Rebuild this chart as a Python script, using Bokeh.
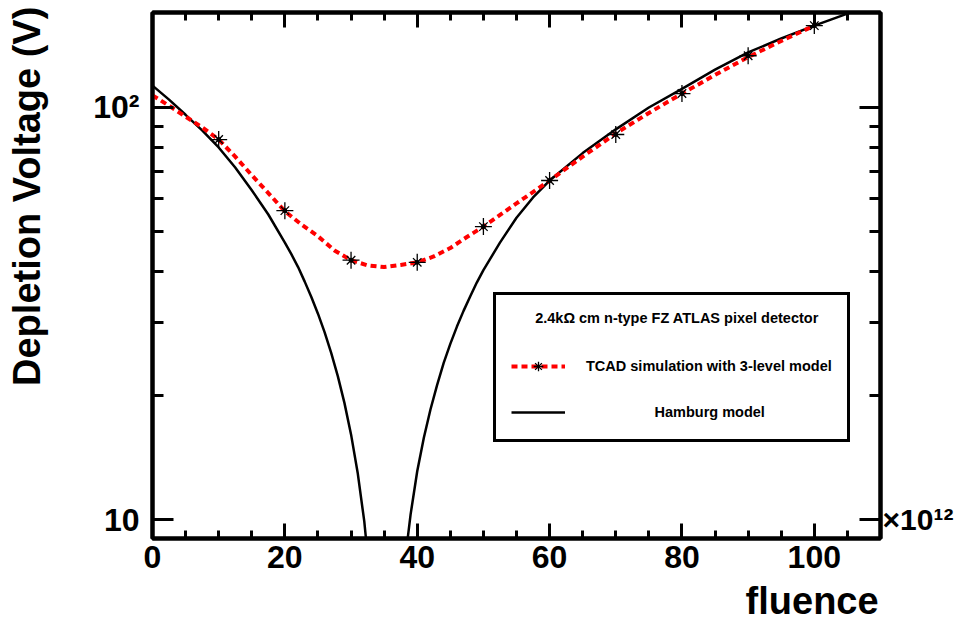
from bokeh.plotting import figure
from bokeh.models import (FixedTicker, LinearAxis, LogAxis, Legend, LegendItem,
                          CustomJSTickFormatter)
from bokeh.embed import file_html
from bokeh.resources import INLINE

# ---- data ----
tcad_curve_x = [0, 2.5, 5, 7.5, 10, 12.5, 15, 17.5, 20, 22.5, 25, 27.5, 30, 32.5, 35, 37.5,
                40, 42.5, 45, 47.5, 50, 55, 60, 65, 70, 75, 80, 85, 90, 95, 100]
tcad_curve_v = [107, 101, 95, 89.5, 83.6, 76, 68.5, 62, 56, 52, 48.7, 45, 42.6, 41.4, 41.0, 41.5,
                42.1, 43.5, 45.6, 48.5, 51.4, 58.5, 66.5, 76, 86.5, 97, 108, 120, 132.5, 145, 158]

tcad_pts_x = [10, 20, 30, 40, 50, 60, 70, 80, 90, 100]
tcad_pts_v = [83.6, 56.2, 42.6, 42.1, 51.4, 66.5, 86.0, 108.1, 133.5, 158]

hamburg_x = [0, 2.5, 5, 7.5, 10, 12.5, 15, 17.5, 20, 21, 22, 23, 24, 25, 26, 27, 28, 29, 30,
             31, 32, 33, 34, 35, 36, 37, 38, 39, 40, 41, 42, 43, 44, 45, 46, 47, 48, 49, 50,
             52.5, 55, 57.5, 60, 65, 70, 75, 80, 85, 90, 95, 100, 105, 110]
hamburg_v = [113, 104.5, 96, 88, 80, 71.5, 63, 55, 47, 44, 41, 37.8, 34.7, 31.6, 28.5, 25.4,
             22.3, 19.2, 16.1, 13, 9.9, 6.8, 3.7, 0.6, 2.2, 4.9, 7.6, 10.3, 13.1, 15.8, 18.5,
             21.2, 24, 26.7, 29.4, 32.1, 34.8, 37.6, 40.3, 47, 54, 60.5, 66.5, 77.5, 88.5,
             100, 111, 123.5, 136, 147, 158, 169, 180]

x_major = [0, 20, 40, 60, 80, 100]
x_minor = [5, 10, 15, 25, 30, 35, 45, 50, 55, 65, 70, 75, 85, 90, 95, 105]
y_major = [10, 100]
y_minor = [20, 30, 40, 50, 60, 70, 80, 90]
y_labels = {10: "10", 100: "10²"}
x_exponent = {10: "×10¹²", 100: ""}

legend_header = "2.4kΩ cm n-type FZ ATLAS pixel detector"
label_tcad = "TCAD simulation with 3-level model"
label_hamburg = "Hamburg model"
x_title = "fluence"
y_title = "Depletion Voltage (V)"

FONT = "Liberation Sans"
NBSP = "\u00a0"

p = figure(width=964, height=626, x_range=(0, 110), y_range=(9, 170), y_axis_type="log",
           output_backend="svg", toolbar_location=None,
           min_border_left=152, min_border_right=84, min_border_top=12, min_border_bottom=88,
           x_axis_location=None, y_axis_location=None)
p.grid.visible = False
p.outline_line_color = "black"
p.outline_line_width = 4
p.outline_line_alpha = 1
p.background_fill_color = "white"
p.border_fill_color = "white"

empty = CustomJSTickFormatter(code="return ''")


def style_axis(ax, major_len, minor_len, size="32px"):
    ax.axis_line_width = 4
    ax.axis_line_color = "black"
    ax.major_tick_in = major_len
    ax.major_tick_out = 0
    ax.minor_tick_in = minor_len
    ax.minor_tick_out = 0
    ax.major_tick_line_width = 3
    ax.minor_tick_line_width = 3
    ax.major_label_text_font = FONT
    ax.major_label_text_font_style = "bold"
    ax.major_label_text_font_size = size
    ax.major_label_text_color = "black"
    ax.axis_label_text_font = FONT
    ax.axis_label_text_font_style = "bold"
    ax.axis_label_text_font_size = "38px"
    ax.axis_label_text_color = "black"


# axis titles sit at the far end of each axis (ROOT style); leading no-break
# spaces push the centred label towards that end
xb = LinearAxis(ticker=FixedTicker(ticks=x_major, minor_ticks=x_minor))
style_axis(xb, 15, 8)
xb.major_label_standoff = 7
xb.axis_label = NBSP * 56 + x_title
xb.axis_label_standoff = 9
p.add_layout(xb, "below")

xt = LinearAxis(ticker=FixedTicker(ticks=x_major, minor_ticks=x_minor))
style_axis(xt, 15, 8)
xt.formatter = empty
xt.major_label_standoff = 0
p.add_layout(xt, "above")

yl = LogAxis(ticker=FixedTicker(ticks=y_major, minor_ticks=y_minor))
style_axis(yl, 21, 11)
yl.major_label_overrides = y_labels
yl.major_label_standoff = 13
yl.axis_label = NBSP * 15 + y_title
yl.axis_label_standoff = 42
p.add_layout(yl, "left")

yr = LogAxis(ticker=FixedTicker(ticks=y_major, minor_ticks=y_minor))
style_axis(yr, 21, 11, size="30px")
yr.major_label_overrides = x_exponent
yr.major_label_standoff = 2
p.add_layout(yr, "right")

# ---- data glyphs ----
r_ham = p.line(hamburg_x, hamburg_v, line_color="black", line_width=2.5)
r_red = p.line(tcad_curve_x, tcad_curve_v, line_color="#ff0000", line_width=4, line_dash="6 4")
r_cross = p.scatter(tcad_pts_x, tcad_pts_v, marker="cross", size=17, line_color="black",
                    line_width=1.3)
r_x = p.scatter(tcad_pts_x, tcad_pts_v, marker="x", size=12, line_color="black",
                line_width=1.3)
r_dot = p.scatter(tcad_pts_x, tcad_pts_v, marker="circle", size=4, line_color="black",
                  fill_color="black")

# ---- legend ----
legend = Legend(items=[LegendItem(label=label_tcad, renderers=[r_red, r_cross, r_x]),
                       LegendItem(label=NBSP * 17 + label_hamburg, renderers=[r_ham])],
                title=NBSP * 6 + legend_header, location=(341, 96))
legend.border_line_color = "black"
legend.border_line_alpha = 1
legend.border_line_width = 3
legend.background_fill_color = "white"
legend.background_fill_alpha = 1
legend.label_text_font = FONT
legend.label_text_font_style = "bold"
legend.label_text_font_size = "14.5px"
legend.label_text_color = "black"
legend.title_text_font = FONT
legend.title_text_font_style = "bold"
legend.title_text_font_size = "14.5px"
legend.title_text_color = "black"
legend.glyph_width = 54
legend.glyph_height = 24
legend.label_standoff = 21
legend.spacing = 22
legend.padding = 15
legend.title_standoff = 28
legend.margin = 0
p.add_layout(legend, "center")

open("out.html", "w").write(file_html(p, INLINE))
